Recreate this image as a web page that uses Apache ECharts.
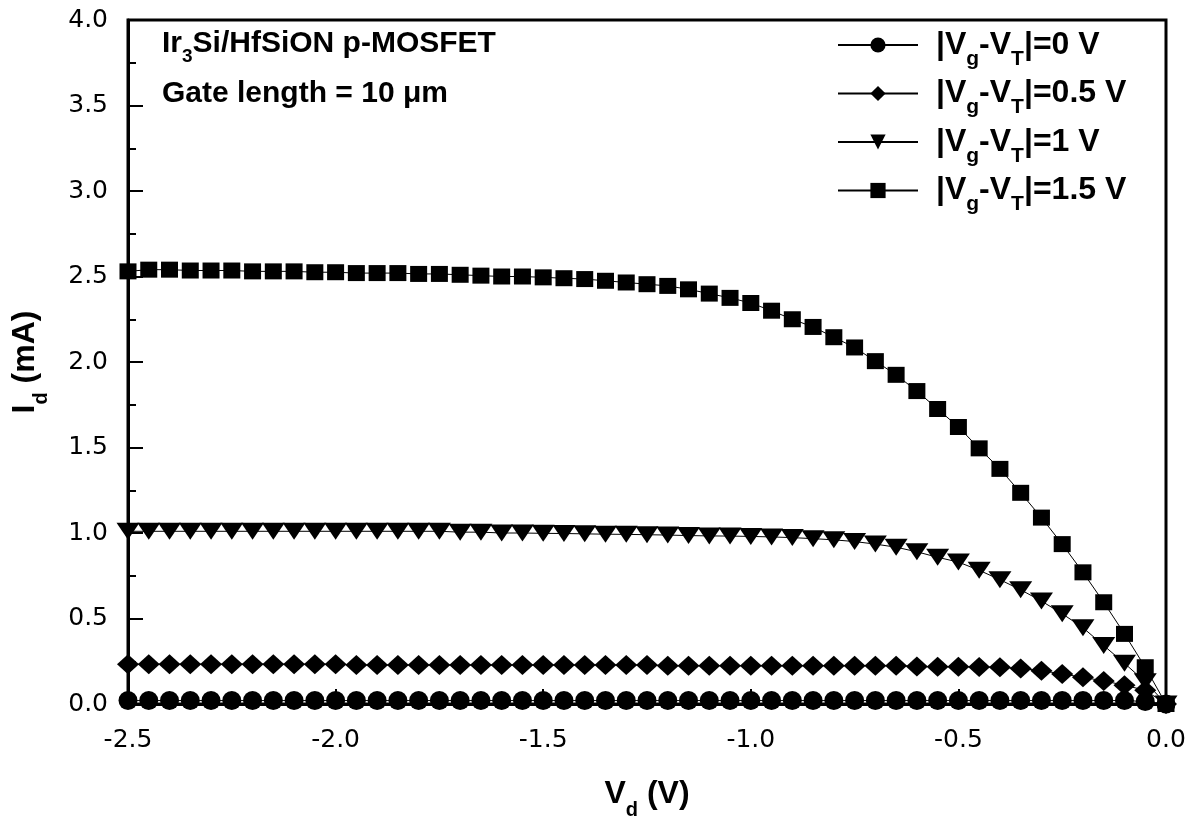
<!DOCTYPE html>
<html lang="en">
<head>
    <meta charset="UTF-8">
    <title>Id-Vd</title>
    <script src="https://cdn.jsdelivr.net/npm/echarts/dist/echarts.min.js"></script>
    <style>
        html, body { margin: 0; padding: 0; background: #fff; }
        #chart { width: 1201px; height: 821px; }
    </style>
</head>
<body>
<div id="chart"></div>
<script>
    // drain voltage (V), one point every 0.05 V
    var vd = [-2.5, -2.45, -2.4, -2.35, -2.3, -2.25, -2.2, -2.15, -2.1, -2.05,
              -2.0, -1.95, -1.9, -1.85, -1.8, -1.75, -1.7, -1.65, -1.6, -1.55,
              -1.5, -1.45, -1.4, -1.35, -1.3, -1.25, -1.2, -1.15, -1.1, -1.05,
              -1.0, -0.95, -0.9, -0.85, -0.8, -0.75, -0.7, -0.65, -0.6, -0.55,
              -0.5, -0.45, -0.4, -0.35, -0.3, -0.25, -0.2, -0.15, -0.1, -0.05, 0];

    // drain current (mA) for |Vg-VT| = 0 V
    var id0 = [0.02, 0.02, 0.02, 0.02, 0.02, 0.02, 0.02, 0.02, 0.02, 0.02,
               0.02, 0.02, 0.02, 0.02, 0.02, 0.02, 0.02, 0.02, 0.02, 0.02,
               0.02, 0.02, 0.02, 0.02, 0.02, 0.02, 0.02, 0.02, 0.02, 0.02,
               0.02, 0.02, 0.02, 0.02, 0.02, 0.02, 0.02, 0.02, 0.02, 0.02,
               0.02, 0.02, 0.02, 0.02, 0.02, 0.02, 0.02, 0.02, 0.02, 0.015, 0];

    // |Vg-VT| = 0.5 V
    var id05 = [0.233, 0.233, 0.233, 0.233, 0.233, 0.233, 0.233, 0.233, 0.233, 0.233,
                0.233, 0.228, 0.228, 0.228, 0.228, 0.228, 0.228, 0.228, 0.228, 0.228,
                0.228, 0.228, 0.228, 0.228, 0.228, 0.228, 0.224, 0.224, 0.224, 0.224,
                0.224, 0.224, 0.224, 0.224, 0.224, 0.224, 0.224, 0.224, 0.22, 0.218,
                0.218, 0.217, 0.215, 0.208, 0.195, 0.176, 0.156, 0.135, 0.11, 0.08, 0];

    // |Vg-VT| = 1 V
    var id1 = [1.01, 1.01, 1.01, 1.01, 1.01, 1.01, 1.01, 1.01, 1.01, 1.01,
               1.01, 1.01, 1.01, 1.01, 1.01, 1.01, 1.005, 1.005, 1.0, 1.0,
               0.998, 0.997, 0.995, 0.993, 0.992, 0.99, 0.988, 0.985, 0.983, 0.982,
               0.98, 0.977, 0.973, 0.967, 0.96, 0.95, 0.935, 0.917, 0.89, 0.858,
               0.83, 0.782, 0.727, 0.668, 0.602, 0.528, 0.446, 0.342, 0.238, 0.13, 0];

    // |Vg-VT| = 1.5 V
    var id15 = [2.53, 2.54, 2.54, 2.535, 2.535, 2.535, 2.53, 2.53, 2.53, 2.525,
                2.525, 2.52, 2.52, 2.52, 2.515, 2.515, 2.51, 2.505, 2.5, 2.5,
                2.495, 2.49, 2.485, 2.475, 2.465, 2.455, 2.445, 2.425, 2.4, 2.375,
                2.345, 2.3, 2.25, 2.205, 2.145, 2.085, 2.005, 1.925, 1.83, 1.725,
                1.62, 1.495, 1.375, 1.235, 1.09, 0.935, 0.77, 0.595, 0.41, 0.215, 0];

    var seriesNames = ['|Vg-VT|=0 V', '|Vg-VT|=0.5 V', '|Vg-VT|=1 V', '|Vg-VT|=1.5 V'];
    var xTicks = [-2.5, -2.0, -1.5, -1.0, -0.5, 0.0];
    var yTicks = [0.0, 0.5, 1.0, 1.5, 2.0, 2.5, 3.0, 3.5, 4.0];

    var FONT = 'Liberation Sans, Arial, sans-serif';
    // subscript: tiny token box pinned to the bottom of the line
    var subStyle = function (size) {
        return { fontSize: size, fontWeight: 'bold', fontFamily: FONT, height: 4, verticalAlign: 'bottom', color: '#000' };
    };

    function pairs(ys) {
        var out = [];
        for (var i = 0; i < vd.length; i++) out.push([vd[i], ys[i]]);
        return out;
    }

    function makeSeries(name, ys, symbol, size, rotate) {
        return {
            name: name,
            type: 'line',
            data: pairs(ys),
            symbol: symbol,
            symbolSize: size,
            symbolRotate: rotate || 0,
            showAllSymbol: true,
            clip: false,
            itemStyle: { color: '#000' },
            lineStyle: { color: '#000', width: 1 },
            emphasis: { disabled: true }
        };
    }

    var option = {
        animation: false,
        backgroundColor: '#fff',
        grid: {
            left: 128, right: 35, top: 20, bottom: 117,
            show: true, borderColor: '#000', borderWidth: 3,
            outerBoundsMode: 'none'
        },
        legend: {
            orient: 'vertical',
            left: 837,
            top: 29,
            padding: 0,
            itemGap: 8,
            itemWidth: 80,
            itemHeight: 19,
            selectedMode: false,
            data: seriesNames,
            formatter: function (name) {
                return name.replace('Vg', 'V{s|g}').replace('VT', 'V{s|T}');
            },
            textStyle: {
                color: '#000', fontSize: 32, fontWeight: 'bold', fontFamily: FONT,
                lineHeight: 32, padding: [0, 0, 0, 13],
                rich: { s: subStyle(21) }
            }
        },
        xAxis: {
            type: 'value',
            min: xTicks[0],
            max: xTicks[xTicks.length - 1],
            interval: 0.5,
            name: 'V{s|d} (V)',
            nameLocation: 'middle',
            nameGap: 72,
            nameMoveOverlap: false,
            nameTextStyle: {
                color: '#000', fontSize: 32, fontWeight: 'bold', fontFamily: FONT, lineHeight: 36,
                rich: { s: subStyle(20) }
            },
            axisLine: { show: true, onZero: false, lineStyle: { color: '#000', width: 3 } },
            axisTick: { show: true, inside: true, length: 15, lineStyle: { color: '#000', width: 2 } },
            minorTick: { show: true, splitNumber: 2, length: 8, lineStyle: { color: '#000', width: 2 } },
            splitLine: { show: false },
            axisLabel: {
                color: '#000', fontSize: 25, fontFamily: 'DejaVu Sans', margin: 24,
                formatter: function (v) { return v.toFixed(1); }
            }
        },
        yAxis: {
            type: 'value',
            min: yTicks[0],
            max: yTicks[yTicks.length - 1],
            interval: 0.5,
            name: 'I{s|d} (mA)',
            nameLocation: 'middle',
            nameGap: 85,
            nameMoveOverlap: false,
            nameTextStyle: {
                color: '#000', fontSize: 32, fontWeight: 'bold', fontFamily: FONT, lineHeight: 36,
                rich: { s: subStyle(20) }
            },
            axisLine: { show: true, onZero: false, lineStyle: { color: '#000', width: 3 } },
            axisTick: { show: true, inside: true, length: 15, lineStyle: { color: '#000', width: 2 } },
            minorTick: { show: true, splitNumber: 2, length: 8, lineStyle: { color: '#000', width: 2 } },
            splitLine: { show: false },
            axisLabel: {
                color: '#000', fontSize: 25, fontFamily: 'DejaVu Sans', margin: 20,
                formatter: function (v) { return v.toFixed(1); }
            }
        },
        graphic: [
            {
                type: 'text', x: 162, y: 44, z: 10,
                style: {
                    text: 'Ir{s|3}Si/HfSiON p-MOSFET',
                    fill: '#000', fontSize: 30, fontWeight: 'bold', fontFamily: FONT,
                    lineHeight: 30, verticalAlign: 'middle',
                    rich: { s: subStyle(19) }
                }
            },
            {
                type: 'text', x: 162, y: 94, z: 10,
                style: {
                    text: 'Gate length = 10 \u03bcm',
                    fill: '#000', fontSize: 30, fontWeight: 'bold', fontFamily: FONT,
                    verticalAlign: 'middle'
                }
            }
        ],
        series: [
            makeSeries(seriesNames[0], id0, 'circle', 19),
            makeSeries(seriesNames[1], id05, 'diamond', [22, 20]),
            makeSeries(seriesNames[2], id1, 'triangle', [23, 17], 180),
            makeSeries(seriesNames[3], id15, 'rect', [17, 16])
        ]
    };

    var myChart = echarts.init(document.getElementById('chart'));
    myChart.setOption(option);
</script>
</body>
</html>
